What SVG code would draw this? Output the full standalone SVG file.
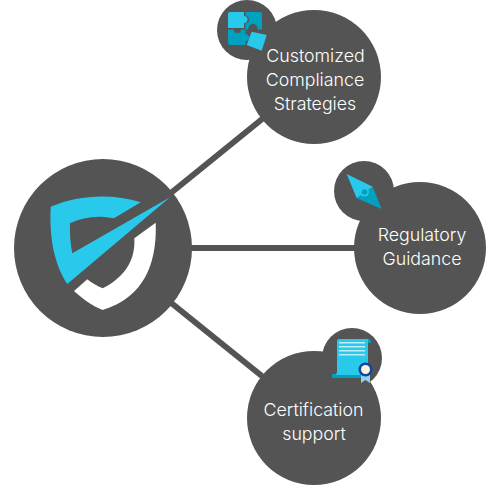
<svg xmlns="http://www.w3.org/2000/svg" width="500" height="500" viewBox="0 0 500 500">
<style>
.d{fill:#545454}
.c{fill:#29c9ec}
.m{fill:#00a0c0}
.p{fill:#bfeef8}
.t{font-family:"Inter","Noto Sans",sans-serif;font-size:17.8px;font-weight:350;fill:#fff;text-anchor:middle}
.l{stroke:#545454;stroke-width:6;fill:none}
</style>
<g id="connectors">
<line class="l" x1="103" y1="248" x2="314" y2="77"/>
<line class="l" x1="103" y1="248" x2="420" y2="248"/>
<line class="l" x1="103" y1="248" x2="314" y2="418"/>
</g>
<g id="hub">
<circle class="d" cx="103" cy="248" r="89"/>
<path class="c" d="M50.700 206.700C78 195 112 193 140.700 202.300L114 218.300C98 215 83 217 70 223.300C69.500 234 70.500 244 72.300 253.300L170 197.300L67.300 284C55 265 49 240 50.700 206.700Z"/>
<path fill="#fff" d="M155.700 222.700L134.300 238.300C136 262 122 279 102.700 288.300C97 286 92 283 87.300 279.300L74 291C83 299 92 306 102.700 310C125 303 158 285 155.700 222.700Z"/>
</g>
<g id="node-strategies">
<circle class="d" cx="314" cy="77" r="67"/>
<circle class="d" cx="247" cy="30" r="30"/>
<path class="c" d="M230 12H244V16A3 3 0 0 1 244 23V28H228V14Q228 12 230 12Z"/>
<path class="m" d="M245.500 12H260Q262 12 262 14V29.500H258A5 5 0 0 0 248 29.500H245.500V23A3 3 0 0 0 245.500 16Z"/>
<path class="m" d="M228 29.500H234A3.500 3.500 0 0 0 241 29.500H245.500V34A3 3 0 0 1 245.500 41V45H230Q228 45 228 43Z"/>
<circle class="d" cx="253" cy="28" r="4"/>
<path class="c" d="M251.700 31.700L266.700 35L261.700 50.700L246.700 45L250 36Z"/>
<text class="t" x="315.500" y="62">Customized</text>
<text class="t" x="315" y="86">Compliance</text>
<text class="t" x="315" y="110">Strategies</text>
</g>
<g id="node-guidance">
<circle class="d" cx="420" cy="248" r="66"/>
<circle class="d" cx="364" cy="191" r="30"/>
<path class="c" d="M346.700 174L372.700 186.700L356.700 198.300Z"/>
<path class="m" d="M372.700 186.700L381.700 209L356.700 198.300Z"/>
<circle class="c" cx="364.500" cy="192" r="4.500"/>
<circle class="m" cx="364.500" cy="192" r="2.800"/>
<text class="t" x="422" y="241">Regulatory</text>
<text class="t" x="422" y="265">Guidance</text>
</g>
<g id="node-certification">
<circle class="d" cx="314" cy="418" r="67"/>
<circle class="d" cx="352" cy="358" r="30"/>
<path class="m" d="M366 339H369Q371 339 371 343H368ZM332 374H362V378H332Z"/>
<path class="c" d="M339 339H368V375H335Q337 374 337 372V341Q337 339 339 339Z"/>
<rect class="p" x="339" y="342" width="26" height="1.500"/>
<rect class="p" x="339" y="346" width="26" height="1.500"/>
<rect class="p" x="339" y="350" width="26" height="1.500"/>
<rect class="p" x="339" y="354" width="26" height="1.500"/>
<path fill="#8fd0ee" d="M361 372H370V383L365.500 380L361 383Z"/>
<circle fill="#1046a0" cx="365.500" cy="369.500" r="7"/>
<circle fill="#fbf3dc" cx="365.500" cy="369.500" r="4.500"/>
<text class="t" x="313.500" y="416">Certification</text>
<text class="t" x="314" y="440">support</text>
</g>
</svg>
